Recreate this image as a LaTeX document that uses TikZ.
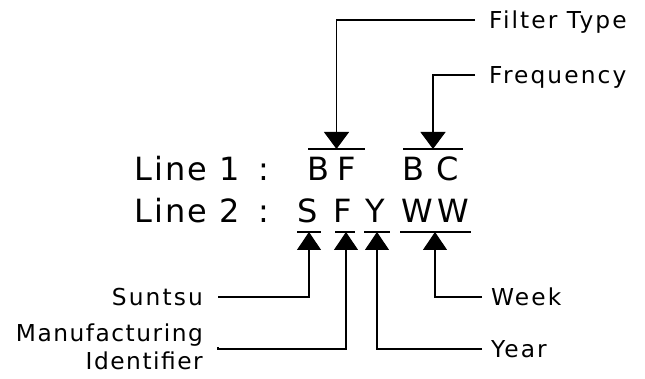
\documentclass[tikz,border=0pt]{standalone}
\usepackage{fontspec}
\setmainfont{DejaVu Sans}
\newfontfamily\bigfnt[LetterSpace=7]{DejaVu Sans}
\newfontfamily\wwfnt[LetterSpace=14]{DejaVu Sans}
\newfontfamily\labfnt[LetterSpace=9]{DejaVu Sans}
\newfontfamily\labfntb[LetterSpace=6.5]{DejaVu Sans}
\usetikzlibrary{arrows.meta}
\tikzset{
  big/.style={font=\fontsize{32}{38}\bigfnt, inner sep=0pt, anchor=base west},
  lab/.style={font=\fontsize{23.3}{28}\labfnt, inner sep=0pt, text height=16.5pt, text depth=0pt},
  con/.style={line width=1.1pt, draw=black},
  dn/.style={-{Triangle[width=25pt,length=17pt]}},
  up/.style={-{Triangle[width=24pt,length=18pt]}},
  bar/.style={line width=1.1pt},
}
\begin{document}
\begin{tikzpicture}[x=1pt,y=-1pt]
\useasboundingbox (0,0) rectangle (645,379);
\fill[white] (0,0) rectangle (645,379);
% main text
\node[big] (l1) at (134,181) {Line 1 \kern6pt:};
\node[big] (l2) at (134,223) {Line 2 \kern6pt:};
\node[big] (b1) at (307,181) {B};
\node[big] (f1) at (337,181) {F};
\node[big] (b2) at (402,181) {B};
\node[big] (c2) at (436,181) {C};
\node[big] (s2) at (297,223) {S};
\node[big] (f2) at (333,223) {F};
\node[big] (y2) at (365,223) {Y};
\node[big, font=\fontsize{32}{38}\wwfnt] (w2) at (401.5,223) {WW};
% over/under bars
\draw[bar] (308,149) -- (365,149);
\draw[bar] (403,149) -- (463,149);
\draw[bar] (297,232) -- (321,232);
\draw[bar] (335,232) -- (355,232);
\draw[bar] (364,232) -- (390,232);
\draw[bar] (400,232) -- (471,232);
% tips
\coordinate (tBF) at (336.5,149);
\coordinate (tBC) at (433,149);
\coordinate (tS) at (309,232);
\coordinate (tF) at (346,232);
\coordinate (tY) at (377,232);
\coordinate (tW) at (435,232);
% labels
\node[lab, anchor=west] (ft) at (489,20) {Filter Type};
\node[lab, anchor=west] (fq) at (489,75) {Frequency};
\node[lab, anchor=west] (wk) at (491,297) {Week};
\node[lab, anchor=west] (yr) at (491,349) {Year};
\node[lab, anchor=east] (su) at (203,297) {Suntsu};
\node[lab, font=\fontsize{23.3}{28}\labfntb, anchor=east, align=right, text height=, text depth=] (mi) at (203,347) {Manufacturing\\Identifier};
\coordinate (mic) at (218,349);
% connectors
\draw[con, dn] ([xshift=-14pt]ft.west) -| (tBF);
\draw[con, dn] ([xshift=-14pt]fq.west) -| (tBC);
\draw[con, up] ([xshift=15pt]su.east) -| (tS);
\draw[con, up] (mi.east -| mic) -- (mic) -| (tF);
\draw[con, up] ([xshift=-9pt]yr.west) -| (tY);
\draw[con, up] ([xshift=-9pt]wk.west) -| (tW);
\end{tikzpicture}
\end{document}
